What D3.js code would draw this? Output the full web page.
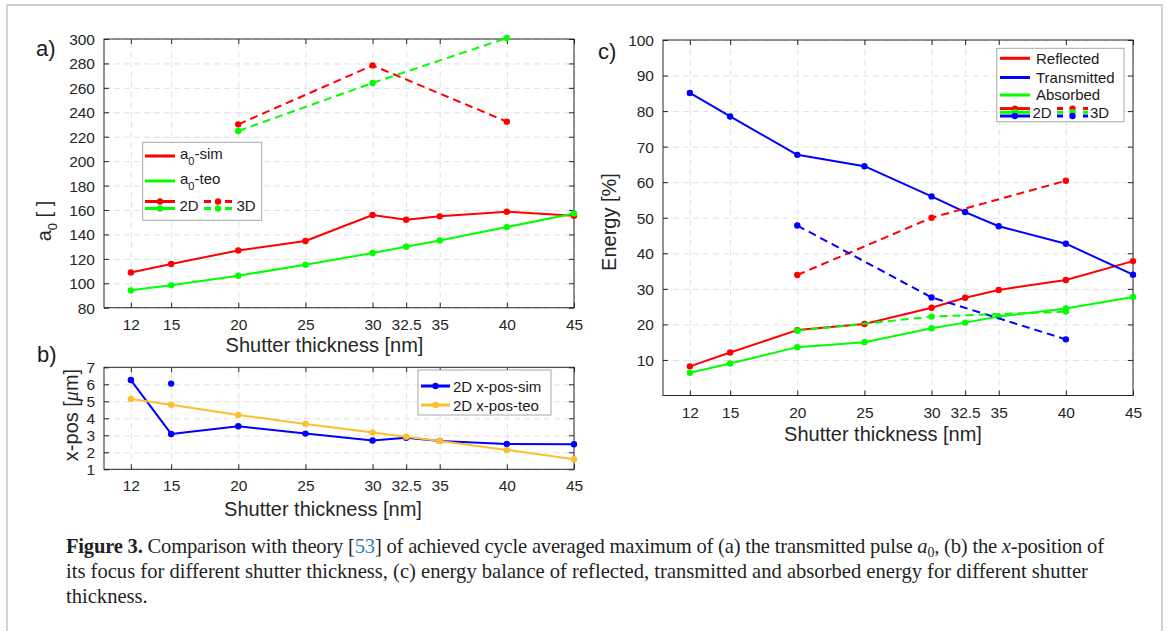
<!DOCTYPE html>
<html>
<head>
<meta charset="utf-8">
<script src="https://cdn.jsdelivr.net/npm/d3@7"></script>
<style>
  html, body { margin: 0; padding: 0; background: #fff; }
  svg { display: block; }
</style>
</head>
<body>
<svg id="fig" width="1167" height="631"></svg>
<script>
// ---------------- data ----------------
const thickness = [12, 15, 20, 25, 30, 32.5, 35, 40, 45];
const thickness3D = [20, 30, 40];
const thicknessTickLabels = ["12", "15", "20", "25", "30", "32.5", "35", "40", "45"];

// (a) transmitted pulse a0
const a0Sim2D = [108.9, 115.8, 126.9, 134.6, 155.9, 152.0, 154.8, 158.6, 155.3];
const a0Teo2D = [94.2, 98.3, 106.2, 115.2, 124.8, 129.9, 135.1, 146.0, 157.2];
const a0Sim3D = [230.1, 278.4, 232.3];
const a0Teo3D = [224.7, 264.0, 300.8];
const a0Ticks = [80, 100, 120, 140, 160, 180, 200, 220, 240, 260, 280, 300];

// (b) focus x-position
const xposSim2D = [6.25, 3.08, 3.53, 3.10, 2.69, 2.86, 2.67, 2.49, 2.47];
const xposTeo2D = [5.14, 4.80, 4.20, 3.67, 3.16, 2.92, 2.67, 2.14, 1.59];
const xposSim3DThickness = [15];
const xposSim3D = [6.04];
const xposTicks = [1, 2, 3, 4, 5, 6, 7];

// (c) energy balance [%]
const reflected2D = [8.2, 12.1, 18.4, 20.1, 24.7, 27.5, 29.7, 32.5, 37.8];
const transmitted2D = [85.1, 78.5, 67.7, 64.5, 56.0, 51.6, 47.6, 42.7, 34.0];
const absorbed2D = [6.4, 9.0, 13.6, 15.0, 18.9, 20.5, 22.2, 24.5, 27.7];
const reflected3D = [33.9, 50.0, 60.4];
const transmitted3D = [47.8, 27.6, 15.8];
const absorbed3D = [18.2, 22.2, 23.6];
const energyTicks = [10, 20, 30, 40, 50, 60, 70, 80, 90, 100];

// ---------------- style ----------------
const SANS = "'Liberation Sans', Arial, Helvetica, sans-serif";
const SERIF = "'Liberation Serif', 'Times New Roman', serif";
const INK = "#262626";
const RED = "#ff0000", GREEN = "#00ff00", BLUE = "#0000ff", YELLOW = "#fbc02d";
const TICK_FS = 15.5, TITLE_FS = 20, LEG_FS = 15;

const svg = d3.select("#fig");

// outer figure frame
svg.append("rect")
  .attr("x", 7).attr("y", 5).attr("width", 1155).attr("height", 650)
  .attr("fill", "none").attr("stroke", "#d2d2d2").attr("stroke-width", 2);

function makePanel(cfg) {
  const x = d3.scaleLinear().domain([10, 45]).range([cfg.left, cfg.right]);
  const y = d3.scaleLinear().domain(cfg.yDomain).range([cfg.bottom, cfg.top]);
  const w = cfg.right - cfg.left, h = cfg.bottom - cfg.top;
  const g = svg.append("g");

  // dashed grid
  const gridStyle = s => {
    s.select(".domain").remove();
    s.selectAll("line").attr("stroke", "#e1e1e1").attr("stroke-dasharray", "6,4");
  };
  g.append("g").attr("transform", `translate(0,${cfg.bottom})`)
    .call(d3.axisBottom(x).tickValues(thickness).tickSize(-h).tickFormat(""))
    .call(gridStyle);
  g.append("g").attr("transform", `translate(${cfg.left},0)`)
    .call(d3.axisLeft(y).tickValues(cfg.yTicks).tickSize(-w).tickFormat(""))
    .call(gridStyle);

  // axes box
  g.append("rect").attr("x", cfg.left).attr("y", cfg.top)
    .attr("width", w).attr("height", h)
    .attr("fill", "none").attr("stroke", INK).attr("stroke-width", 1);

  const tickStyle = s => {
    s.select(".domain").remove();
    s.selectAll("line").attr("stroke", INK);
    s.selectAll("text").attr("fill", INK).style("font-family", SANS).style("font-size", TICK_FS + "px");
  };
  // bottom ticks with labels (inward)
  g.append("g").attr("transform", `translate(0,${cfg.bottom})`)
    .call(d3.axisBottom(x).tickValues(thickness).tickSize(-5).tickSizeOuter(0)
      .tickFormat((d, i) => thicknessTickLabels[i]))
    .call(tickStyle)
    .call(s => s.selectAll("text").attr("y", cfg.xLabelBase).attr("dy", null));
  // top ticks
  g.append("g").attr("transform", `translate(0,${cfg.top})`)
    .call(d3.axisTop(x).tickValues(thickness).tickSize(-5).tickSizeOuter(0).tickFormat(""))
    .call(tickStyle);
  // left ticks with labels
  g.append("g").attr("transform", `translate(${cfg.left},0)`)
    .call(d3.axisLeft(y).tickValues(cfg.yTicks).tickSize(-5).tickSizeOuter(0).tickPadding(9)
      .tickFormat(d3.format("d")))
    .call(tickStyle)
    .call(s => s.selectAll("text").attr("dy", "0.35em"));
  // right ticks
  g.append("g").attr("transform", `translate(${cfg.right},0)`)
    .call(d3.axisRight(y).tickValues(cfg.yTicks).tickSize(-5).tickSizeOuter(0).tickFormat(""))
    .call(tickStyle);

  // x title
  g.append("text").attr("x", cfg.xTitleX).attr("y", cfg.xTitleY)
    .attr("text-anchor", "middle").attr("fill", INK)
    .style("font-family", SANS).style("font-size", TITLE_FS + "px")
    .text("Shutter thickness [nm]");

  // panel letter
  g.append("text").attr("x", cfg.letterX).attr("y", cfg.letterY)
    .attr("fill", "#1a1a1a").style("font-family", SANS).style("font-size", "22px")
    .text(cfg.letter);

  return { x, y, g };
}

function series(p, xs, ys, color, dashed) {
  const line = d3.line().x((d, i) => p.x(xs[i])).y(d => p.y(d));
  p.g.append("path").datum(ys).attr("d", line)
    .attr("fill", "none").attr("stroke", color).attr("stroke-width", 2)
    .attr("stroke-linejoin", "round")
    .attr("stroke-dasharray", dashed ? "8,5" : null);
  p.g.append("g").selectAll("circle").data(ys).join("circle")
    .attr("cx", (d, i) => p.x(xs[i])).attr("cy", d => p.y(d))
    .attr("r", 3.2).attr("fill", color);
}

function yTitle(p, x, y, build) {
  const t = p.g.append("text")
    .attr("transform", `translate(${x},${y}) rotate(-90)`)
    .attr("text-anchor", "middle").attr("fill", INK)
    .style("font-family", SANS).style("font-size", TITLE_FS + "px");
  build(t);
}

// ---------------- panel (a) ----------------
const pa = makePanel({
  left: 104, right: 574, top: 39, bottom: 307.7,
  yDomain: [80, 300], yTicks: a0Ticks,
  xLabelBase: 22, xTitleX: 324.5, xTitleY: 352,
  letter: "a)", letterX: 36, letterY: 56
});
series(pa, thickness, a0Sim2D, RED, false);
series(pa, thickness, a0Teo2D, GREEN, false);
series(pa, thickness3D, a0Sim3D, RED, true);
series(pa, thickness3D, a0Teo3D, GREEN, true);
yTitle(pa, 51, 221, t => {
  t.append("tspan").text("a");
  t.append("tspan").attr("dy", 6).style("font-size", "13px").text("0");
  t.append("tspan").attr("dy", -6).text(" [ ]");
});

// ---------------- panel (b) ----------------
const pb = makePanel({
  left: 104, right: 574, top: 367.3, bottom: 469.3,
  yDomain: [1, 7], yTicks: xposTicks,
  xLabelBase: 22, xTitleX: 323, xTitleY: 516,
  letter: "b)", letterX: 37, letterY: 362
});
series(pb, thickness, xposSim2D, BLUE, false);
series(pb, xposSim3DThickness, xposSim3D, BLUE, true);
series(pb, thickness, xposTeo2D, YELLOW, false);
yTitle(pb, 78, 415, t => {
  t.append("tspan").text("x-pos [");
  t.append("tspan").style("font-style", "italic").style("font-family", SERIF).text("\u03bc");
  t.append("tspan").text("m]");
});

// ---------------- panel (c) ----------------
const pc = makePanel({
  left: 663, right: 1133, top: 40, bottom: 395.5,
  yDomain: [0, 100], yTicks: energyTicks,
  xLabelBase: 22.8, xTitleX: 883, xTitleY: 441,
  letter: "c)", letterX: 598, letterY: 59
});
series(pc, thickness, reflected2D, RED, false);
series(pc, thickness, transmitted2D, BLUE, false);
series(pc, thickness, absorbed2D, GREEN, false);
series(pc, thickness3D, reflected3D, RED, true);
series(pc, thickness3D, transmitted3D, BLUE, true);
series(pc, thickness3D, absorbed3D, GREEN, true);
yTitle(pc, 616, 222, t => t.text("Energy [%]"));

// ---------------- legends ----------------
function legendBox(x, y, w, h) {
  svg.append("rect").attr("x", x).attr("y", y).attr("width", w).attr("height", h)
    .attr("fill", "#fff").attr("stroke", "#a8a8a8").attr("stroke-width", 1);
}
function legLine(x1, x2, y, color, dash) {
  svg.append("line").attr("x1", x1).attr("x2", x2).attr("y1", y).attr("y2", y)
    .attr("stroke", color).attr("stroke-width", 3)
    .attr("stroke-dasharray", dash || null);
}
function legDot(cx, cy, color) {
  svg.append("circle").attr("cx", cx).attr("cy", cy).attr("r", 3.2).attr("fill", color);
}
function legText(x, y) {
  return svg.append("text").attr("x", x).attr("y", y).attr("fill", "#1a1a1a")
    .style("font-family", SANS).style("font-size", LEG_FS + "px");
}
function a0Label(t, suffix) {
  t.append("tspan").text("a");
  t.append("tspan").attr("dy", 6).style("font-size", "11px").text("0");
  t.append("tspan").attr("dy", -6).text(suffix);
}

// legend (a)
legendBox(142.7, 142.3, 119, 78);
legLine(145, 175, 156, RED);
a0Label(legText(180, 158.5), "-sim");
legLine(145, 175, 181, GREEN);
a0Label(legText(180, 184), "-teo");
legLine(145, 175, 201.5, RED); legDot(160, 201.5, RED);
legLine(145, 175, 208.5, GREEN); legDot(160, 208.5, GREEN);
legText(179.5, 210.5).text("2D");
legLine(204, 232, 201.5, RED, "7,14"); legDot(218, 201.5, RED);
legLine(204, 232, 208.5, GREEN, "7,14"); legDot(218, 208.5, GREEN);
legText(236.5, 210.5).text("3D");

// legend (b)
legendBox(418, 370, 133, 45);
legLine(421, 450, 386, BLUE); legDot(435.5, 386, BLUE);
legText(453, 391.5).text("2D x-pos-sim");
legLine(421, 450, 405, YELLOW); legDot(435.5, 405, YELLOW);
legText(453, 410.5).text("2D x-pos-teo");

// legend (c)
legendBox(996.7, 48.3, 127.3, 73.4);
legLine(1000, 1030, 58.3, RED);
legText(1036, 63.5).text("Reflected");
legLine(1000, 1030, 77.5, BLUE);
legText(1036, 82.7).text("Transmitted");
legLine(1000, 1030, 95, GREEN);
legText(1036, 100.2).text("Absorbed");
[[108.6, RED], [112.3, GREEN], [116, BLUE]].forEach(([yy, c]) => {
  legLine(1000, 1030, yy, c); legDot(1015, yy, c);
  legLine(1057, 1088, yy, c, "6,20"); legDot(1072.5, yy, c);
});
legText(1032.5, 117.5).text("2D");
legText(1090, 117.5).text("3D");

// ---------------- caption ----------------
const CAP_X = 66;
const cap = svg.append("g").attr("fill", "#1f1f1f")
  .style("font-family", SERIF).style("font-size", "20px");
const l1 = cap.append("text").attr("x", CAP_X).attr("y", 553);
l1.append("tspan").style("font-weight", "bold").text("Figure 3.");
l1.append("tspan").text(" Comparison with theory [");
l1.append("tspan").attr("fill", "#2f7fc1").text("53");
l1.append("tspan").text("] of achieved cycle averaged maximum of (a) the transmitted pulse ");
l1.append("tspan").style("font-style", "italic").text("a");
l1.append("tspan").attr("dy", 4).style("font-size", "14px").text("0");
l1.append("tspan").attr("dy", -4).text(", (b) the ");
l1.append("tspan").style("font-style", "italic").text("x");
l1.append("tspan").text("-position of");
const l2 = cap.append("text").attr("x", CAP_X).attr("y", 578)
  .text("its focus for different shutter thickness, (c) energy balance of reflected, transmitted and absorbed energy for different shutter");
const l3 = cap.append("text").attr("x", CAP_X).attr("y", 603).text("thickness.");

// fit the caption block to its column width
const natural = l2.node().getComputedTextLength();
const k = (1088 - CAP_X) / natural;
cap.style("font-size", (20 * k).toFixed(2) + "px");
const w1 = l1.node().getComputedTextLength();
const target1 = 1104 - CAP_X;
if (w1 > target1) {
  l1.attr("textLength", target1).attr("lengthAdjust", "spacing");
}
</script>
</body>
</html>
